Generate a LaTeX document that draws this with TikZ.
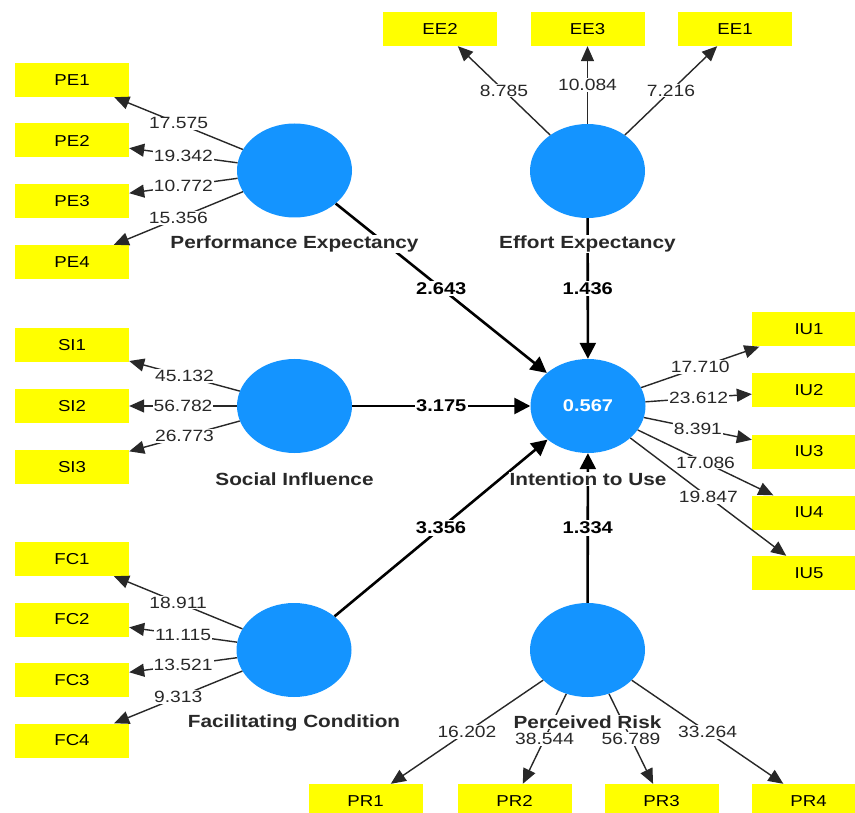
\documentclass[tikz,border=0pt]{standalone}
\usepackage{fontspec}
\setmainfont{Liberation Sans}[FakeStretch=1.18]
\usetikzlibrary{arrows.meta,shapes.geometric}
\definecolor{latblue}{RGB}{20,148,255}
\definecolor{indyel}{RGB}{255,255,0}
\definecolor{txt}{RGB}{40,40,40}
\begin{document}
\begin{tikzpicture}[x=1pt,y=-1pt,
  lat/.style={ellipse, fill=latblue, minimum width=115pt, minimum height=94pt, inner sep=0pt},
  ind/.style={rectangle, fill=indyel, minimum width=114pt, minimum height=34pt, inner sep=0pt, font=\fontsize{15.8}{17}\selectfont},
  ld/.style={-{Triangle[length=15pt,width=13pt]}, line width=1.4pt, draw=txt},
  st/.style={-{Triangle[length=16pt,width=16pt]}, line width=2.6pt, draw=black},
  lbl/.style={fill=white, inner sep=1pt, font=\fontsize{16.3}{18}\selectfont, text=txt},
  slbl/.style={fill=white, inner sep=1.5pt, font=\bfseries\fontsize{17}{19}\selectfont, text=black},
  nm/.style={fill=white, inner sep=1pt, font=\bfseries\fontsize{17.6}{19}\selectfont, text=txt}]
\clip (0,0) rectangle (855,813);
\fill[white] (0,0) rectangle (855,813);
% latent variables
\node[lat] (PE) at (294.5,170.5) {};
\node[lat] (EE) at (587.5,171) {};
\node[lat] (SI) at (294.5,406) {};
\node[lat] (IU) at (588,406) {\textcolor{white}{\bfseries\fontsize{17}{19}\selectfont 0.567}};
\node[lat] (FC) at (294,650) {};
\node[lat] (PR) at (587.5,650) {};
% indicators
\node[ind] (PE1) at (72,80) {PE1};
\node[ind] (PE2) at (72,140.5) {PE2};
\node[ind] (PE3) at (72,201) {PE3};
\node[ind] (PE4) at (72,262) {PE4};
\node[ind] (SI1) at (72,345.5) {SI1};
\node[ind] (SI2) at (72,406) {SI2};
\node[ind] (SI3) at (72,467) {SI3};
\node[ind] (FC1) at (72,559) {FC1};
\node[ind] (FC2) at (72,619.5) {FC2};
\node[ind] (FC3) at (72,680) {FC3};
\node[ind] (FC4) at (72,740.5) {FC4};
\node[ind] (EE2) at (440,29) {EE2};
\node[ind] (EE3) at (587.5,29) {EE3};
\node[ind] (EE1) at (735,29) {EE1};
\node[ind] (IU1) at (809,329.5) {IU1};
\node[ind] (IU2) at (809,390) {IU2};
\node[ind] (IU3) at (809,451.5) {IU3};
\node[ind] (IU4) at (809,512.5) {IU4};
\node[ind] (IU5) at (809,573) {IU5};
\node[ind] (PR1) at (365.5,801) {PR1};
\node[ind] (PR2) at (514.5,801) {PR2};
\node[ind] (PR3) at (661.5,801) {PR3};
\node[ind] (PR4) at (808.5,801) {PR4};
% loadings
\draw[ld] (PE) -- node[lbl]{17.575} (PE1);
\draw[ld] (PE) -- node[lbl]{19.342} (PE2);
\draw[ld] (PE) -- node[lbl]{10.772} (PE3);
\draw[ld] (PE) -- node[lbl]{15.356} (PE4);
\draw[ld] (SI) -- node[lbl]{45.132} (SI1);
\draw[ld] (SI) -- node[lbl]{56.782} (SI2);
\draw[ld] (SI) -- node[lbl]{26.773} (SI3);
\draw[ld] (FC) -- node[lbl]{18.911} (FC1);
\draw[ld] (FC) -- node[lbl]{11.115} (FC2);
\draw[ld] (FC) -- node[lbl]{13.521} (FC3);
\draw[ld] (FC) -- node[lbl]{9.313} (FC4);
\draw[ld] (EE) -- node[lbl]{8.785} (EE2);
\draw[ld] (EE) -- node[lbl]{10.084} (EE3);
\draw[ld] (EE) -- node[lbl]{7.216} (EE1);
\draw[ld] (IU) -- node[lbl]{17.710} (IU1);
\draw[ld] (IU) -- node[lbl]{23.612} (IU2);
\draw[ld] (IU) -- node[lbl]{8.391} (IU3);
\draw[ld] (IU) -- node[lbl]{17.086} (IU4);
\draw[ld] (IU) -- node[lbl]{19.847} (IU5);
\draw[ld] (PR) -- node[lbl]{16.202} (PR1);
\draw[ld] (PR) -- node[lbl]{38.544} (PR2);
\draw[ld] (PR) -- node[lbl]{56.789} (PR3);
\draw[ld] (PR) -- node[lbl]{33.264} (PR4);
% structural paths
\draw[st] (PE) -- node[slbl]{2.643} (IU);
\draw[st] (EE) -- node[slbl]{1.436} (IU);
\draw[st] (SI) -- node[slbl]{3.175} (IU);
\draw[st] (FC) -- node[slbl]{3.356} (IU);
\draw[st] (PR) -- node[slbl]{1.334} (IU);
% construct names
\node[nm] (nPE) at (294.5,244) {Performance Expectancy};
\node[nm] (nEE) at (587.5,244) {Effort Expectancy};
\node[nm] (nSI) at (294.5,479) {Social Influence};
\node[nm] (nIU) at (588,479) {Intention to Use};
\node[nm] (nFC) at (294,723) {Facilitating Condition};
\node[nm] (nPR) at (587.5,722) {Perceived Risk};
\end{tikzpicture}
\end{document}
